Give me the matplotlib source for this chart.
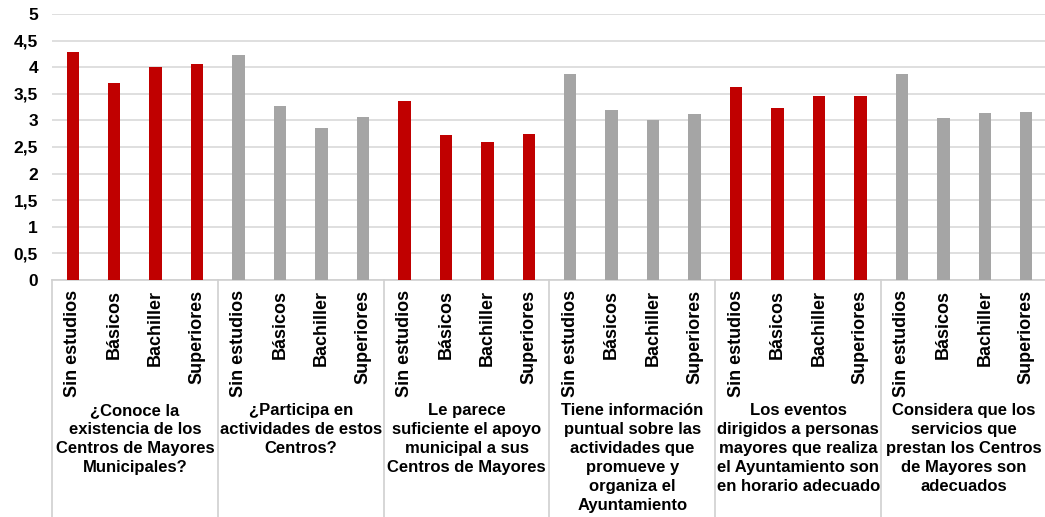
import matplotlib
matplotlib.use("Agg")
import matplotlib.pyplot as plt

# Niveles de estudios (eje x dentro de cada pregunta)
niveles = ["Sin estudios", "Básicos", "Bachiller", "Superiores"]

preguntas = [
    "¿Conoce la\nexistencia de los\nCentros de Mayores\nMunicipales?",
    "¿Participa en\nactividades de estos\nCentros?",
    "Le parece\nsuficiente el apoyo\nmunicipal a sus\nCentros de Mayores",
    "Tiene información\npuntual sobre las\nactividades que\npromueve y\norganiza el\nAyuntamiento",
    "Los eventos\ndirigidos a personas\nmayores que realiza\nel Ayuntamiento son\nen horario adecuado",
    "Considera que los\nservicios que\nprestan los Centros\nde Mayores son\nadecuados",
]

conoce = [4.28, 3.71, 4.01, 4.06]
participa = [4.23, 3.27, 2.86, 3.06]
apoyo = [3.37, 2.72, 2.60, 2.74]
informacion = [3.87, 3.19, 3.01, 3.12]
eventos = [3.63, 3.23, 3.46, 3.46]
servicios = [3.87, 3.04, 3.14, 3.16]

valores = [conoce, participa, apoyo, informacion, eventos, servicios]
colores = ["#C00000", "#A5A5A5"]

plt.rcParams["font.family"] = ["Liberation Sans", "DejaVu Sans"]
plt.rcParams["font.weight"] = "bold"

fig = plt.figure(figsize=(10.45, 5.17), dpi=100)
ax = fig.add_axes([52 / 1045, 237 / 517, 995 / 1045, 266 / 517])

etiquetas = []
pos = 0
for i, serie in enumerate(valores):
    xs = list(range(pos, pos + len(serie)))
    ax.bar(xs, serie, width=0.3, color=colores[i % 2], zorder=3)
    etiquetas += niveles
    # nombre de la pregunta debajo de los niveles
    ax.text(pos + 1.5, -0.462, preguntas[i], transform=ax.get_xaxis_transform(),
            ha="center", va="top", fontsize=12, fontweight="bold",
            linespacing=1.34)
    pos += len(serie)

n = len(etiquetas)
ax.set_xlim(-0.5, n - 0.5)
ax.set_ylim(0, 5)
ax.set_yticks([0, 0.5, 1, 1.5, 2, 2.5, 3, 3.5, 4, 4.5, 5])
ax.set_yticklabels(["0", "0,5", "1", "1,5", "2", "2,5", "3", "3,5", "4", "4,5", "5"],
                   fontsize=12.5, fontweight="bold")
ax.set_xticks(range(n))
ax.set_xticklabels(etiquetas, rotation=90, fontsize=13, fontweight="bold")
ax.tick_params(axis="both", length=0)
ax.tick_params(axis="x", pad=7)
ax.tick_params(axis="y", pad=10)

ax.grid(axis="y", color="#D9D9D9", linewidth=1.2, zorder=0)
for lado in ["top", "right", "left"]:
    ax.spines[lado].set_visible(False)
ax.spines["bottom"].set_color("#D0D0D0")
ax.spines["bottom"].set_linewidth(1.2)

# separadores entre preguntas
for k in range(0, n + 1, 4):
    ax.plot([k - 0.5, k - 0.5], [0, -0.9], transform=ax.get_xaxis_transform(),
            color="#D0D0D0", linewidth=1.2, clip_on=False)

plt.savefig("out.png", dpi=100)
